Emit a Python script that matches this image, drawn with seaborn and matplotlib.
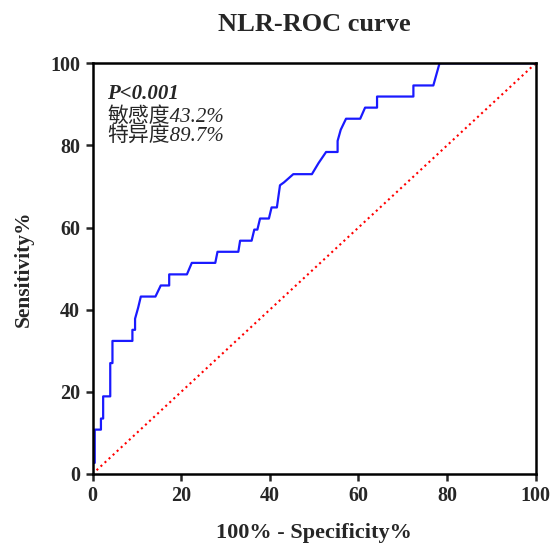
import numpy as np
import pandas as pd
import matplotlib
matplotlib.use("Agg")
import matplotlib.pyplot as plt
import seaborn as sns

# ROC curve vertices (100% - specificity, sensitivity)
fpr = [0, 0, 0.5, 0.5, 1.9, 1.9, 2.4, 2.4, 4.0, 4.0, 4.5, 4.5, 9.0, 9.0, 9.6, 9.6,
       10.3, 10.9, 14.2, 15.4, 17.3, 17.3, 21.3, 22.4, 27.7, 28.2, 32.9, 33.3,
       35.9, 36.5, 37.2, 37.8, 39.8, 40.4, 41.6, 42.3, 43.2, 45.3, 49.5, 51.0,
       52.7, 55.3, 55.3, 56.0, 57.2, 60.4, 61.5, 64.2, 64.2, 72.4, 72.4, 76.9,
       78.3, 100]
tpr = [0, 2.7, 2.7, 10.8, 10.8, 13.5, 13.5, 18.9, 18.9, 27.0, 27.0, 32.4, 32.4,
       35.1, 35.1, 37.8, 40.5, 43.2, 43.2, 45.9, 45.9, 48.6, 48.6, 51.4, 51.4,
       54.1, 54.1, 56.8, 56.8, 59.5, 59.5, 62.2, 62.2, 64.9, 64.9, 70.3, 71.0,
       73.0, 73.0, 75.7, 78.4, 78.4, 81.1, 83.8, 86.5, 86.5, 89.2, 89.2, 91.9,
       91.9, 94.6, 94.6, 100, 100]
ref_line = [0, 100]
ticks = [0, 20, 40, 60, 80, 100]

df = pd.DataFrame({'fpr': fpr, 'tpr': tpr})
ref = pd.DataFrame({'x': ref_line, 'y': ref_line})

sns.set_style("ticks")
plt.rcParams['font.family'] = ['Liberation Serif', 'Noto Sans CJK SC']

fig = plt.figure(figsize=(5.52, 5.45), dpi=100)
ax = fig.add_axes([0.1676, 0.1303, 0.8029, 0.7536])

sns.lineplot(data=ref, x='x', y='y', ax=ax, color='red', linestyle=':',
             linewidth=1.5, sort=False)
sns.lineplot(data=df, x='fpr', y='tpr', ax=ax, color='#1a1aff',
             linewidth=1.6, sort=False, estimator=None)

ax.set_xlim(0, 100)
ax.set_ylim(0, 100)
ax.set_xticks(ticks)
ax.set_yticks(ticks)
for side in ['left', 'bottom', 'top', 'right']:
    ax.spines[side].set_linewidth(1.8)
    ax.spines[side].set_color('black')
ax.tick_params(length=5, width=1.8, labelsize=14.5, pad=4)
for lab in ax.get_xticklabels() + ax.get_yticklabels():
    lab.set_fontweight('bold')

ax.set_xlabel('100% - Specificity%', fontsize=16, fontweight='bold', labelpad=12)
ax.set_ylabel('Sensitivity%', fontsize=15.5, fontweight='bold', labelpad=12)
ax.set_title('NLR-ROC curve', fontsize=19, fontweight='bold', pad=23)

ax.text(3.3, 92.6, 'P<0.001', fontsize=15, fontweight='bold', style='italic',
        va='center', ha='left')
ax.text(3.3, 87.0, '敏感度43.2%', fontsize=15, style='italic',
        va='center', ha='left')
ax.text(3.3, 82.2, '特异度89.7%', fontsize=15, style='italic',
        va='center', ha='left')

fig.savefig('out.png', dpi=100)
